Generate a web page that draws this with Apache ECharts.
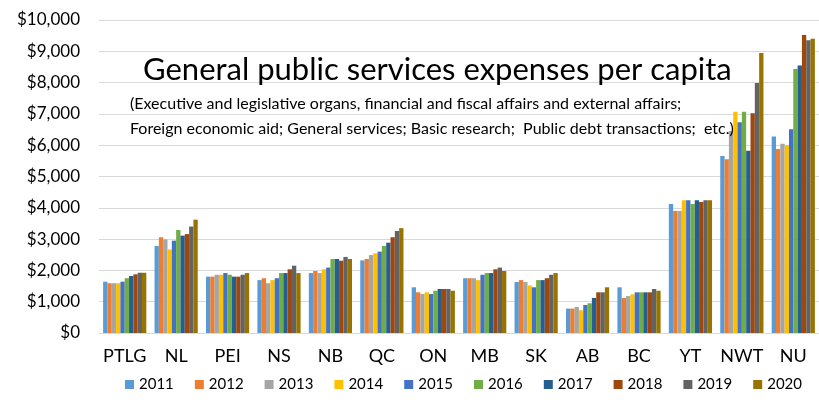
<!DOCTYPE html>
<html>
<head>
<meta charset="utf-8">
<script src="https://cdn.jsdelivr.net/npm/echarts@6/dist/echarts.min.js"></script>
<style>
  html, body { margin: 0; padding: 0; background: #fff; }
  #chart { width: 819px; height: 400px; }
</style>
</head>
<body>
<div id="chart"></div>
<script>
// Provinces and territories
const regions = ['PTLG', 'NL', 'PEI', 'NS', 'NB', 'QC', 'ON', 'MB', 'SK', 'AB', 'BC', 'YT', 'NWT', 'NU'];
const years = ['2011', '2012', '2013', '2014', '2015', '2016', '2017', '2018', '2019', '2020'];
const yearColors = ['#5B9BD5', '#ED7D31', '#A5A5A5', '#FFC000', '#4472C4', '#70AD47', '#255E91', '#9E480E', '#636363', '#997300'];
const yTicks = [0, 1000, 2000, 3000, 4000, 5000, 6000, 7000, 8000, 9000, 10000];

// Expenses per capita, one array per year, ordered as regions
const v2011 = [1640, 2780, 1800, 1690, 1915, 2320, 1460, 1750, 1630, 780, 1460, 4120, 5655, 6280];
const v2012 = [1590, 3060, 1800, 1750, 1980, 2365, 1300, 1750, 1690, 780, 1120, 3900, 5550, 5880];
const v2013 = [1590, 2990, 1860, 1590, 1915, 2490, 1245, 1750, 1630, 830, 1180, 3900, 6450, 6050];
const v2014 = [1590, 2670, 1860, 1690, 2035, 2545, 1300, 1690, 1520, 725, 1235, 4240, 7070, 6000];
const v2015 = [1640, 2950, 1915, 1750, 2090, 2600, 1245, 1860, 1460, 895, 1300, 4240, 6730, 6510];
const v2016 = [1750, 3290, 1860, 1915, 2365, 2780, 1350, 1915, 1690, 950, 1300, 4120, 7070, 8435];
const v2017 = [1820, 3110, 1800, 1915, 2365, 2885, 1405, 1915, 1690, 1120, 1300, 4240, 5825, 8550];
const v2018 = [1875, 3160, 1800, 2035, 2310, 3060, 1405, 2035, 1750, 1300, 1300, 4185, 7020, 9520];
const v2019 = [1925, 3400, 1860, 2150, 2430, 3260, 1405, 2090, 1860, 1300, 1405, 4240, 7990, 9350];
const v2020 = [1925, 3620, 1915, 1915, 2365, 3350, 1350, 1980, 1915, 1460, 1350, 4240, 8945, 9400];
const values = [v2011, v2012, v2013, v2014, v2015, v2016, v2017, v2018, v2019, v2020];

const titleText = 'General public services expenses per capita';
const subLine1 = '(Executive and legislative organs, financial and fiscal affairs and external affairs;';
const subLine2 = 'Foreign economic aid; General services; Basic research;  Public debt transactions;  etc.)';

const FONT = 'Lato, "Open Sans", sans-serif';

const chart = echarts.init(document.getElementById('chart'), null, { renderer: 'canvas' });

chart.setOption({
  animation: false,
  backgroundColor: '#ffffff',
  color: yearColors,
  grid: { left: 99, right: -4, top: 20, bottom: 67, containLabel: false },
  legend: {
    data: years,
    bottom: 3,
    left: 120,
    itemWidth: 9,
    itemHeight: 9,
    itemGap: 21,
    icon: 'rect',
    textStyle: { fontFamily: FONT, fontSize: 15, color: '#000' }
  },
  xAxis: {
    type: 'category',
    data: regions,
    axisLine: { lineStyle: { color: '#d9d9d9', width: 1 } },
    axisTick: { show: false },
    axisLabel: { fontFamily: FONT, fontSize: 18, color: '#000', margin: 14, interval: 0 }
  },
  yAxis: {
    type: 'value',
    min: yTicks[0],
    max: yTicks[yTicks.length - 1],
    interval: 1000,
    axisLine: { show: false },
    axisTick: { show: false },
    splitLine: { lineStyle: { color: '#d9d9d9', width: 1 } },
    axisLabel: {
      fontFamily: FONT, fontSize: 17, color: '#000', margin: 19,
      formatter: v => '$' + v.toLocaleString('en-US')
    }
  },
  series: years.map((y, i) => ({
    name: y,
    type: 'bar',
    data: values[i],
    barGap: '0%',
    barCategoryGap: '16%',
    itemStyle: { color: yearColors[i] }
  })),
  graphic: [
    {
      type: 'text', left: 143, top: 54, z: 10,
      style: { text: titleText, fontFamily: FONT, fontSize: 31, fill: '#000' }
    },
    {
      type: 'text', left: 130, top: 96, z: 10,
      style: { text: subLine1, fontFamily: FONT, fontSize: 16, fill: '#000' }
    },
    {
      type: 'text', left: 130, top: 121, z: 10,
      style: { text: subLine2, fontFamily: FONT, fontSize: 16, fill: '#000' }
    }
  ]
});
</script>
</body>
</html>
